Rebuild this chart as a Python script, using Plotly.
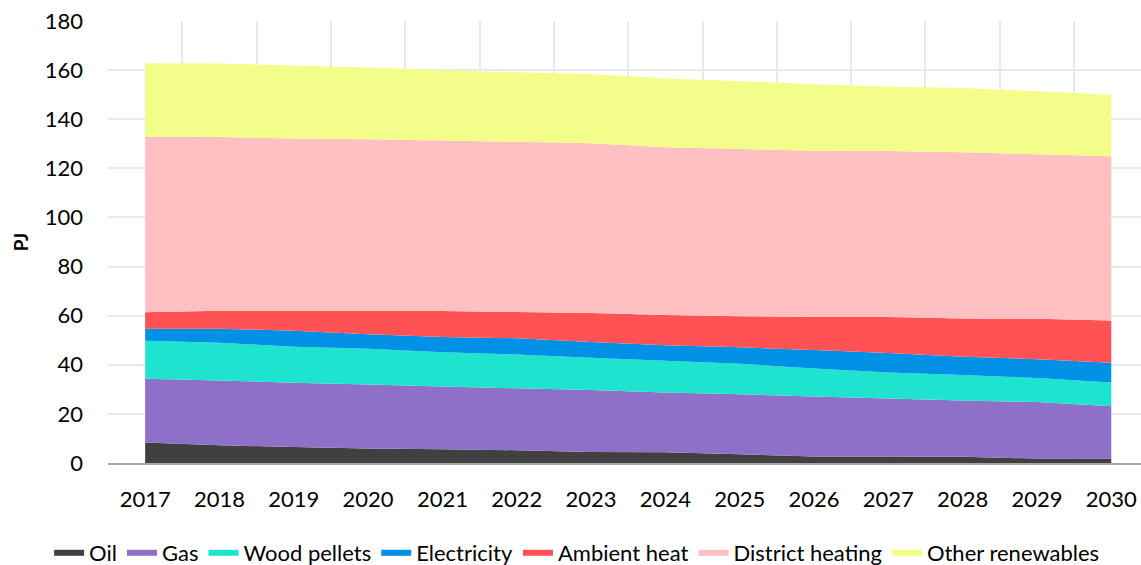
import plotly.graph_objects as go

years = ["2017", "2018", "2019", "2020", "2021", "2022", "2023",
         "2024", "2025", "2026", "2027", "2028", "2029", "2030"]

oil = [8.3, 7.2, 6.5, 5.9, 5.6, 5.2, 4.5, 4.4, 3.6, 2.6, 2.6, 2.5, 1.8, 1.8]
gas = [26.0, 26.4, 26.2, 26.1, 25.6, 25.2, 25.2, 24.3, 24.4, 24.5, 23.7, 23.0, 23.0, 21.3]
wood_pellets = [15.5, 15.4, 14.6, 14.5, 13.9, 13.8, 13.2, 12.9, 12.4, 11.4, 10.6, 10.3, 9.8, 9.7]
electricity = [4.9, 5.7, 6.6, 5.9, 6.2, 6.6, 6.4, 6.4, 6.7, 7.5, 7.9, 7.5, 7.7, 8.0]
ambient_heat = [6.7, 7.3, 8.1, 9.6, 10.6, 10.7, 11.8, 12.3, 12.7, 13.5, 14.7, 15.5, 16.4, 17.2]
district_heating = [71.5, 70.8, 70.1, 69.8, 69.4, 69.3, 69.1, 68.3, 68.1, 67.7, 67.6, 67.7, 67.0, 66.9]
other_renewables = [29.9, 29.9, 29.8, 29.3, 28.6, 28.3, 28.2, 28.0, 27.6, 27.0, 26.1, 26.2, 25.7, 25.1]

series = [
    ("Oil", oil, "#404040"),
    ("Gas", gas, "#8e70c9"),
    ("Wood pellets", wood_pellets, "#1ee3cf"),
    ("Electricity", electricity, "#0091e6"),
    ("Ambient heat", ambient_heat, "#ff5254"),
    ("District heating", district_heating, "#ffc0c1"),
    ("Other renewables", other_renewables, "#f3fd8a"),
]

y_ticks = list(range(0, 181, 20))

FONT = "Lato, Carlito, Calibri, sans-serif"

fig = go.Figure()
for name, vals, color in series:
    fig.add_trace(go.Scatter(
        x=years, y=vals, name=name, mode="none",
        stackgroup="one", fillcolor=color, line=dict(width=0),
        hoverinfo="skip",
    ))

fig.update_layout(
    width=1141, height=565,
    margin=dict(l=108, r=0, t=21, b=102, autoexpand=False),
    paper_bgcolor="white", plot_bgcolor="white",
    font=dict(family=FONT, size=22, color="#000000"),
    showlegend=True,
    legend=dict(
        orientation="h", traceorder="normal",
        xref="paper", yref="paper",
        x=-0.057, xanchor="left", y=-0.2036, yanchor="middle",
        font=dict(family=FONT, size=22, color="#000000"),
        itemwidth=30, tracegroupgap=0,
        bgcolor="rgba(0,0,0,0)",
    ),
    xaxis=dict(
        type="category", range=[-0.5, 13.4],
        tickson="boundaries", ticks="", showgrid=True,
        gridcolor="#e9e9e9", gridwidth=1.5,
        showline=True, linecolor="#a6a6a6", linewidth=2,
        ticklabelstandoff=16, tickfont=dict(size=22),
        zeroline=False, fixedrange=True,
    ),
    yaxis=dict(
        range=[0, 180], tickvals=y_ticks, ticks="",
        showgrid=True, gridcolor="#e9e9e9", gridwidth=1.5,
        zeroline=False, showline=False,
        ticklabelstandoff=24, tickfont=dict(size=22),
        title=dict(text="<b>PJ</b>", font=dict(size=19), standoff=11),
        fixedrange=True,
    ),
)

fig.write_html(
    "out.html",
    config={"displayModeBar": False},
    post_script="document.body.style.margin='0';document.body.style.overflow='hidden';",
)
